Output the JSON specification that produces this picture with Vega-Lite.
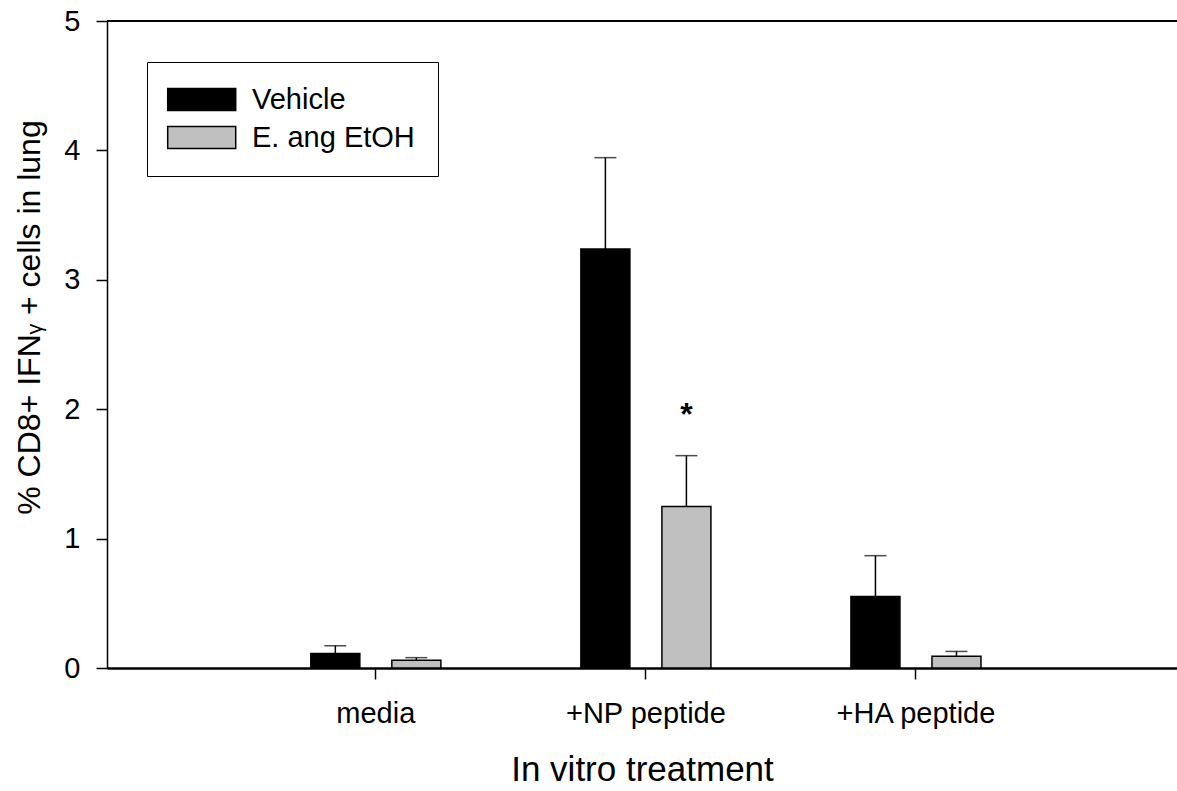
{
  "$schema": "https://vega.github.io/schema/vega-lite/v6.json",
  "width": 1070,
  "height": 647,
  "autosize": {"type": "none"},
  "padding": {"left": 107, "top": 21, "right": 0, "bottom": 123},
  "background": "white",
  "config": {
    "font": "Liberation Sans",
    "view": {"stroke": null},
    "axis": {
      "grid": false,
      "domainColor": "black",
      "tickColor": "black",
      "labelColor": "black",
      "titleColor": "black",
      "labelFont": "Liberation Sans",
      "titleFont": "Liberation Sans",
      "titleFontWeight": "normal"
    }
  },
  "data": {
    "values": [
      {"treatment": "media", "group": "Vehicle", "mean": 0.113, "upper": 0.172, "sig": ""},
      {"treatment": "media", "group": "E. ang EtOH", "mean": 0.059, "upper": 0.080, "sig": ""},
      {"treatment": "+NP peptide", "group": "Vehicle", "mean": 3.238, "upper": 3.944, "sig": ""},
      {"treatment": "+NP peptide", "group": "E. ang EtOH", "mean": 1.249, "upper": 1.641, "sig": "*"},
      {"treatment": "+HA peptide", "group": "Vehicle", "mean": 0.553, "upper": 0.868, "sig": ""},
      {"treatment": "+HA peptide", "group": "E. ang EtOH", "mean": 0.090, "upper": 0.128, "sig": ""}
    ]
  },
  "encoding": {
    "x": {
      "field": "treatment",
      "type": "nominal",
      "sort": ["media", "+NP peptide", "+HA peptide"],
      "scale": {"paddingInner": 0, "paddingOuter": 0.481, "align": 0.515},
      "axis": {
        "title": "In vitro treatment",
        "titleFontSize": 35,
        "titleY": 112,
        "titleBaseline": "alphabetic",
        "labelFontSize": 29,
        "labelAngle": 0,
        "labelPadding": 20,
        "tickSize": 11,
        "tickWidth": 1.5,
        "domainWidth": 2.5
      }
    },
    "xOffset": {
      "field": "group",
      "type": "nominal",
      "sort": ["Vehicle", "E. ang EtOH"],
      "scale": {"paddingInner": 0.395, "paddingOuter": 0.864}
    },
    "y": {
      "field": "mean",
      "type": "quantitative",
      "scale": {"domain": [0, 5], "nice": false},
      "axis": {
        "title": "% CD8+ IFNᵧ + cells in lung",
        "titleFontSize": 32,
        "titleAngle": -90,
        "titleX": -68,
        "titleY": 296,
        "titleAlign": "center",
        "titleBaseline": "alphabetic",
        "labelFontSize": 29,
        "labelPadding": 16,
        "values": [0, 1, 2, 3, 4, 5],
        "tickSize": 11,
        "tickWidth": 1.5,
        "domainWidth": 1.5
      }
    }
  },
  "layer": [
    {
      "mark": {"type": "rule", "color": "black", "strokeWidth": 1.5},
      "encoding": {"y": {"field": "mean", "type": "quantitative"}, "y2": {"field": "upper"}}
    },
    {
      "mark": {"type": "tick", "color": "black", "size": 22, "thickness": 1.5, "orient": "horizontal"},
      "encoding": {"y": {"field": "upper", "type": "quantitative"}}
    },
    {
      "mark": {"type": "bar", "stroke": "black", "strokeWidth": 1.5},
      "encoding": {
        "color": {
          "field": "group",
          "type": "nominal",
          "scale": {"domain": ["Vehicle", "E. ang EtOH"], "range": ["#000000", "#c0c0c0"]},
          "legend": {
            "orient": "none",
            "legendX": 40,
            "legendY": 41,
            "title": null,
            "strokeColor": "black",
            "fillColor": "white",
            "padding": 23,
            "labelFontSize": 29,
            "labelFont": "Liberation Sans",
            "labelColor": "black",
            "labelLimit": 0,
            "labelOffset": 53,
            "rowPadding": 8,
            "symbolType": "M-1.527,-1H4.655V1H-1.527Z",
            "symbolSize": 484,
            "symbolStrokeColor": "black",
            "symbolStrokeWidth": 1.5,
            "symbolOpacity": 1
          }
        }
      }
    },
    {
      "mark": {"type": "text", "fontSize": 32, "fontWeight": "bold", "baseline": "alphabetic", "dy": -31, "color": "black"},
      "transform": [{"filter": "datum.sig != ''"}],
      "encoding": {"y": {"field": "upper", "type": "quantitative"}, "text": {"field": "sig"}}
    },
    {
      "mark": {"type": "rule", "color": "black", "strokeWidth": 2},
      "encoding": {"y": {"datum": 5}, "x": {"value": 0}, "x2": {"value": 1070}, "xOffset": null}
    }
  ]
}
